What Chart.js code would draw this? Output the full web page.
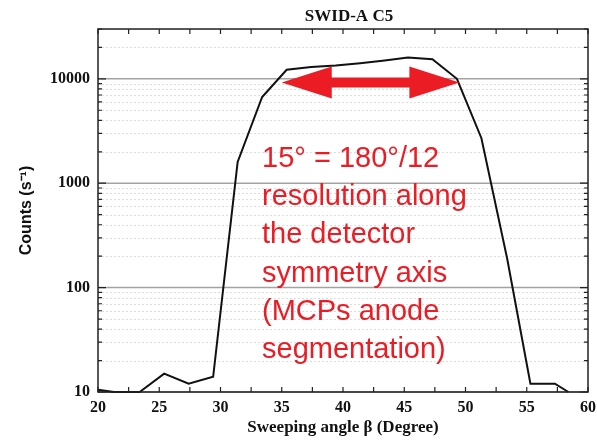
<!DOCTYPE html>
<html>
<head>
<meta charset="utf-8">
<script src="https://cdn.jsdelivr.net/npm/chart.js@4.4.0/dist/chart.umd.min.js"></script>
<style>
  html, body { margin: 0; padding: 0; background: #ffffff; }
  canvas { display: block; }
</style>
</head>
<body>
<canvas id="chart" width="597" height="444"></canvas>
<script>
// Texts
const chartTitle = 'SWID-A C5';
const xAxisTitle = 'Sweeping angle \u03B2 (Degree)';
const yAxisTitle = 'Counts (s\u207B\u00B9)';
const noteLines = [
  '15\u00B0 = 180\u00B0/12',
  'resolution along',
  'the detector',
  'symmetry axis',
  '(MCPs anode',
  'segmentation)'
];

// Measured count rate versus sweeping angle
const sweepAngles = [20, 21.3, 23.4, 25.4, 27.4, 29.4, 31.4, 33.4, 35.4, 37.4, 39.4, 41.4, 43.4, 45.3, 47.3, 49.3, 51.3, 53.4, 55.3, 57.3, 58.4];
const counts      = [10.5, 10, 10, 15, 12, 14, 1600, 6700, 12200, 13000, 13400, 14100, 15000, 16000, 15400, 10000, 2700, 190, 12, 12, 10];

// Axis ticks
const xTickValues = [20, 25, 30, 35, 40, 45, 50, 55, 60];
const xTickLabels = ['20', '25', '30', '35', '40', '45', '50', '55', '60'];
const xMinorTickValues = [22.5, 27.5, 32.5, 37.5, 42.5, 47.5, 52.5, 57.5];
const yDecades = [10, 100, 1000, 10000];
const yTickLabels = ['10', '100', '1000', '10000'];
const yMultipliers = [2, 3, 4, 5, 6, 7, 8, 9];
const yMin = 10, yMax = 30000;

// Angular resolution marker (degrees) and the count level it sits at
const resolutionSpan = [35, 49.5];
const resolutionLevel = 9200;

const RED = '#ec1c24';
const SERIF = '"Liberation Serif", "Times New Roman", serif';
const SANS = '"Liberation Sans", Arial, sans-serif';

const yMinorValues = [];
yDecades.forEach(d => yMultipliers.forEach(m => { if (d * m <= yMax) yMinorValues.push(d * m); }));

const decorations = {
  id: 'decorations',
  beforeDatasetsDraw(chart) {
    const { ctx, chartArea: a, scales: { y } } = chart;
    ctx.save();
    // dotted minor grid
    ctx.strokeStyle = '#dddddd';
    ctx.lineWidth = 1;
    ctx.setLineDash([2, 2]);
    yMinorValues.forEach(v => {
      const py = Math.round(y.getPixelForValue(v)) + 0.5;
      ctx.beginPath(); ctx.moveTo(a.left, py); ctx.lineTo(a.right, py); ctx.stroke();
    });
    // solid decade grid
    ctx.setLineDash([]);
    ctx.strokeStyle = '#a3a3a3';
    ctx.lineWidth = 1.5;
    yDecades.forEach(v => {
      const py = y.getPixelForValue(v);
      ctx.beginPath(); ctx.moveTo(a.left, py); ctx.lineTo(a.right, py); ctx.stroke();
    });
    ctx.restore();
  },
  afterDatasetsDraw(chart) {
    const { ctx, chartArea: a, scales: { x, y } } = chart;
    ctx.save();

    // frame
    ctx.strokeStyle = '#222';
    ctx.lineWidth = 1.5;
    ctx.strokeRect(a.left, a.top, a.right - a.left, a.bottom - a.top);

    // inward tick marks
    ctx.lineWidth = 1.2;
    const xt = xTickValues.concat(xMinorTickValues);
    xt.forEach(v => {
      const px = x.getPixelForValue(v);
      ctx.beginPath();
      ctx.moveTo(px, a.bottom); ctx.lineTo(px, a.bottom - 5);
      ctx.moveTo(px, a.top); ctx.lineTo(px, a.top + 5);
      ctx.stroke();
    });
    const yTickMark = (v, len) => {
      const py = y.getPixelForValue(v);
      ctx.beginPath();
      ctx.moveTo(a.left, py); ctx.lineTo(a.left + len, py);
      ctx.moveTo(a.right, py); ctx.lineTo(a.right - len, py);
      ctx.stroke();
    };
    yMinorValues.forEach(v => yTickMark(v, 4));
    yDecades.forEach(v => yTickMark(v, 8));

    // double-headed resolution arrow
    const x1 = x.getPixelForValue(resolutionSpan[0]);
    const x2 = x.getPixelForValue(resolutionSpan[1]);
    const cy = y.getPixelForValue(resolutionLevel);
    const head = 50, hh = 16, sh = 5;
    ctx.fillStyle = RED;
    ctx.beginPath();
    ctx.moveTo(x1, cy);
    ctx.lineTo(x1 + head, cy - hh);
    ctx.lineTo(x1 + head, cy - sh);
    ctx.lineTo(x2 - head, cy - sh);
    ctx.lineTo(x2 - head, cy - hh);
    ctx.lineTo(x2, cy);
    ctx.lineTo(x2 - head, cy + hh);
    ctx.lineTo(x2 - head, cy + sh);
    ctx.lineTo(x1 + head, cy + sh);
    ctx.lineTo(x1 + head, cy + hh);
    ctx.closePath();
    ctx.fill();

    // explanatory note
    ctx.font = '29px ' + SANS;
    ctx.textAlign = 'left';
    ctx.textBaseline = 'alphabetic';
    noteLines.forEach((t, i) => ctx.fillText(t, a.left + 164, a.top + 138 + i * 38.2));

    // chart title
    ctx.fillStyle = '#111';
    ctx.font = 'bold 17px ' + SERIF;
    ctx.textAlign = 'center';
    ctx.fillText(chartTitle, (a.left + a.right) / 2 + 6, 21);

    ctx.restore();
  }
};

new Chart(document.getElementById('chart'), {
  type: 'line',
  data: {
    datasets: [{
      data: sweepAngles.map((a, i) => ({ x: a, y: counts[i] })),
      borderColor: '#111',
      borderWidth: 2,
      pointRadius: 0,
      tension: 0,
      fill: false,
      clip: 3
    }]
  },
  options: {
    responsive: false,
    animation: false,
    devicePixelRatio: 1,
    layout: { padding: { top: 29, right: 0, left: 0, bottom: 0 } },
    plugins: { legend: { display: false }, tooltip: { enabled: false }, title: { display: false } },
    scales: {
      x: {
        type: 'linear',
        min: 20, max: 60,
        afterBuildTicks: s => { s.ticks = xTickValues.map(v => ({ value: v })); },
        afterFit: s => { s.height = 52; s.paddingLeft = 0; s.paddingRight = 9; },
        ticks: {
          autoSkip: false, maxRotation: 0, padding: 6, color: '#111',
          font: { family: SERIF, weight: 'bold', size: 16 },
          callback: v => xTickLabels[xTickValues.indexOf(v)]
        },
        grid: { display: false, drawTicks: false },
        border: { display: false },
        title: {
          display: true, text: xAxisTitle, color: '#111',
          font: { family: SERIF, weight: 'bold', size: 17 },
          padding: { top: 0, bottom: 6 }
        }
      },
      y: {
        type: 'logarithmic',
        min: yMin, max: yMax,
        afterBuildTicks: s => { s.ticks = yDecades.map(v => ({ value: v })); },
        afterFit: s => { s.width = 98; s.paddingTop = 0; s.paddingBottom = 0; },
        ticks: {
          autoSkip: false, padding: 8, color: '#111',
          font: { family: SERIF, weight: 'bold', size: 16 },
          callback: v => yTickLabels[yDecades.indexOf(v)]
        },
        grid: { display: false, drawTicks: false },
        border: { display: false },
        title: {
          display: true, text: yAxisTitle, color: '#111',
          font: { family: SANS, weight: 'bold', size: 16 },
          padding: { top: 17, bottom: 0 }
        }
      }
    }
  },
  plugins: [decorations]
});
</script>
</body>
</html>
